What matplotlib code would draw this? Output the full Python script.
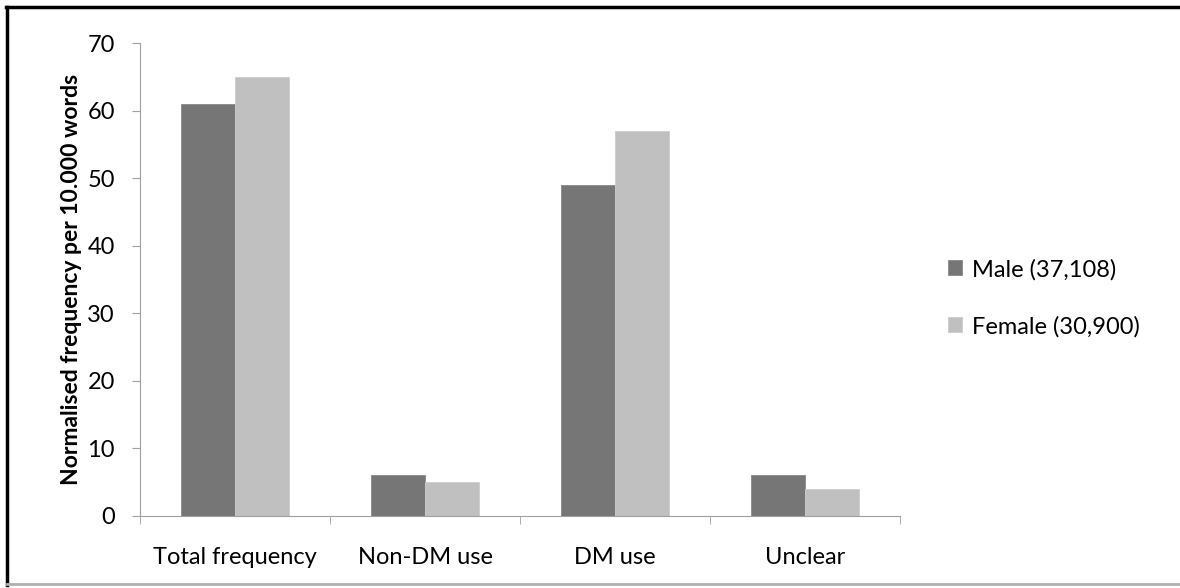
import matplotlib
matplotlib.use('Agg')
import matplotlib.pyplot as plt
from matplotlib.lines import Line2D
import numpy as np

categories = ['Total frequency', 'Non-DM use', 'DM use', 'Unclear']
male = [61, 6, 49, 6]
female = [65, 5, 57, 4]
series_names = ['Male (37,108)', 'Female (30,900)']
yticks = [0, 10, 20, 30, 40, 50, 60, 70]

plt.rcParams['font.family'] = ['Lato', 'DejaVu Sans']

fig = plt.figure(figsize=(11.8, 5.88), dpi=100)
ax = fig.add_axes([140 / 1180, 1 - 516 / 588, 760 / 1180, 473 / 588])

x = np.arange(len(categories))
w = 54 / 190
ax.bar(x - w / 2, male, w, color='#767676', edgecolor='#8a8a8a', linewidth=0.6,
       label=series_names[0])
ax.bar(x + w / 2, female, w, color='#c0c0c0', edgecolor='#cccccc', linewidth=0.6,
       label=series_names[1])

ax.set_xlim(-0.5, len(categories) - 0.5)
ax.set_ylim(0, 70)
ax.set_yticks(yticks)
ax.set_xticks(x)
ax.set_xticklabels(categories)
ax.set_xticks(np.arange(len(categories) + 1) - 0.5, minor=True)
ax.tick_params(axis='x', which='major', length=0, labelsize=17, pad=22)
ax.tick_params(axis='x', which='minor', length=6, color='#a0a0a0')
ax.tick_params(axis='y', length=6, color='#a0a0a0', labelsize=17, pad=12)

for s in ['top', 'right']:
    ax.spines[s].set_visible(False)
for s in ['left', 'bottom']:
    ax.spines[s].set_color('#a0a0a0')

ax.set_ylabel('Normalised frequency per 10.000 words', fontsize=16.5, fontweight='bold',
              labelpad=4)

ax.legend(loc='center left', bbox_to_anchor=(927 / 1180, 1 - 298 / 588),
          bbox_transform=fig.transFigure, frameon=False, fontsize=17,
          handlelength=0.6, handleheight=0.6, handletextpad=0.4, labelspacing=1.5)

# outer chart border
fig.add_artist(Line2D([6 / 1180, 1], [1 - 7 / 588, 1 - 7 / 588], color='black', lw=2.5,
                      transform=fig.transFigure))
fig.add_artist(Line2D([7 / 1180, 7 / 1180], [1 - 7 / 588, 1 - 585 / 588], color='black', lw=2.5,
                      transform=fig.transFigure))
fig.add_artist(Line2D([7 / 1180, 1], [1 - 584 / 588, 1 - 584 / 588], color='#b0b0b0', lw=2,
                      transform=fig.transFigure))

fig.savefig('out.png', dpi=100)
